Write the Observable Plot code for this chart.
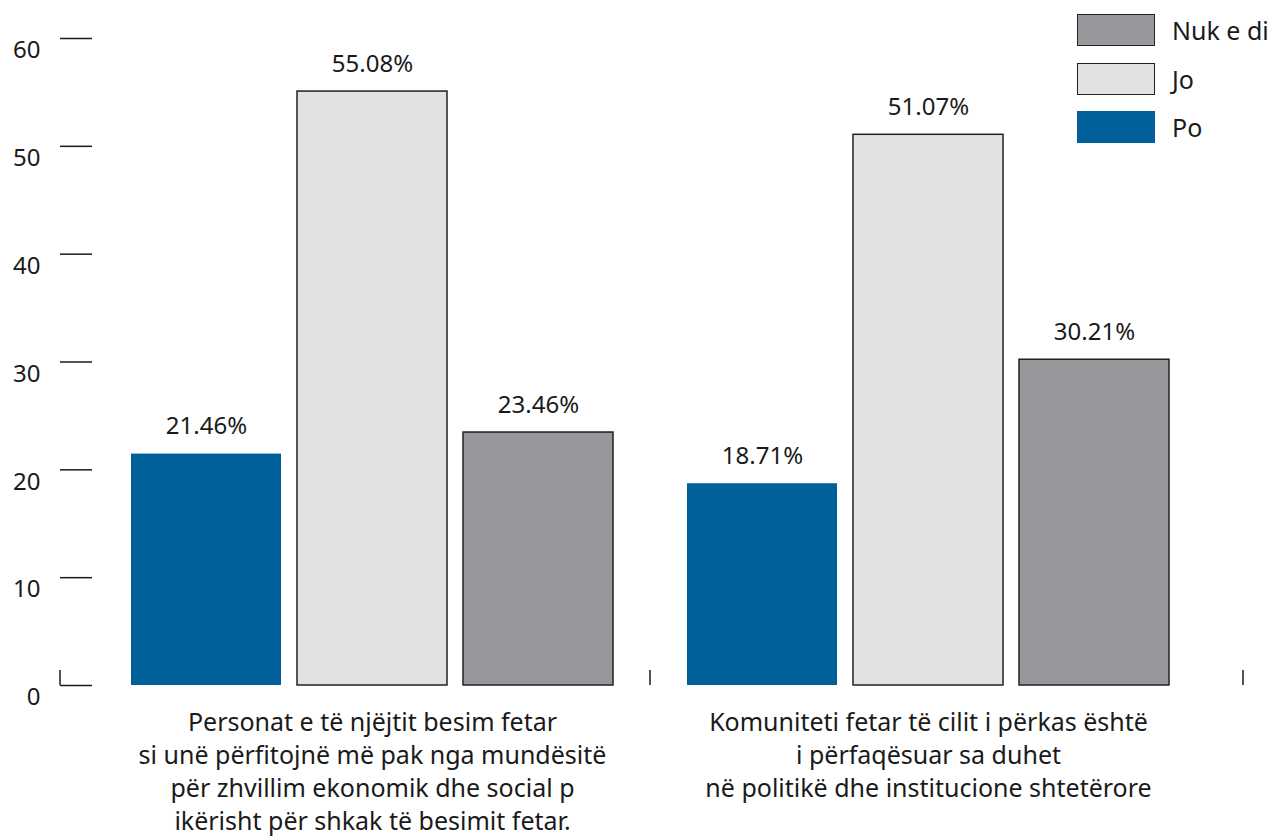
<!DOCTYPE html>
<html>
<head>
<meta charset="utf-8">
<script src="https://cdn.jsdelivr.net/npm/d3@7"></script>
<script src="https://cdn.jsdelivr.net/npm/@observablehq/plot@0.6"></script>
<style>
  html, body { margin: 0; padding: 0; background: #fff; }
  #wrap { position: relative; width: 1271px; height: 838px; font-family: "Noto Sans", sans-serif; color: #1a1a1a; }
  #legend { position: absolute; left: 1077px; top: 14px; }
  .row { display: flex; align-items: center; height: 32px; margin-bottom: 16.5px; }
  .sw { width: 78px; height: 32px; box-sizing: border-box; }
  .lab { margin-left: 17px; font-size: 25px; }
</style>
</head>
<body>
<div id="wrap"><div id="chart"></div><div id="legend"></div></div>
<script>
const categories = [
  "Personat e të njëjtit besim fetar\nsi unë përfitojnë më pak nga mundësitë\npër zhvillim ekonomik dhe social p\nikërisht për shkak të besimit fetar.",
  "Komuniteti fetar të cilit i përkas është\ni përfaqësuar sa duhet\nnë politikë dhe institucione shtetërore"
];
const series = ["Po", "Jo", "Nuk e di"];
const poValues = [21.46, 18.71];
const joValues = [55.08, 51.07];
const nukValues = [23.46, 30.21];
const yTicks = [0, 10, 20, 30, 40, 50, 60];
const legendOrder = ["Nuk e di", "Jo", "Po"];

const colors = {"Po": "#00609a", "Jo": "#e1e2e4", "Nuk e di": "#97989b"};
const strokes = {"Po": "none", "Jo": "#222", "Nuk e di": "#222"};

const valueBySeries = {"Po": poValues, "Jo": joValues, "Nuk e di": nukValues};
const data = [];
categories.forEach((c, i) => series.forEach(s => data.push({category: c, series: s, value: valueBySeries[s][i]})));

const plot = Plot.plot({
  width: 1271,
  height: 838,
  marginLeft: 60,
  marginRight: 28,
  marginTop: 38,
  marginBottom: 153,
  style: {fontFamily: "'Noto Sans', sans-serif", color: "#1a1a1a", background: "#fff"},
  fx: {domain: categories, paddingInner: 0, paddingOuter: 0.062, align: 0, label: null},
  x: {domain: series, paddingInner: 0.099, paddingOuter: 0.222, align: 0.96, axis: null},
  y: {domain: [0, 60], axis: null},
  marks: [
    Plot.barY(data, {
      fx: "category", x: "series", y: "value",
      fill: d => colors[d.series],
      stroke: d => strokes[d.series],
      strokeWidth: 1.5
    }),
    Plot.text(data, {
      fx: "category", x: "series", y: "value",
      text: d => d.value.toFixed(2) + "%",
      lineAnchor: "bottom", dy: -20, fontSize: 24, fill: "#1a1a1a"
    }),
    Plot.axisY({ticks: yTicks, tickSize: -32, fill: "none", label: null, stroke: "#1a1a1a", strokeWidth: 1.5}),
    Plot.axisY({ticks: yTicks, tickSize: 0, tickPadding: 20, dy: 12, fontSize: 24, label: null, fill: "#1a1a1a"}),
    Plot.axisFx({anchor: "bottom", tickSize: 0, tickPadding: 22, fontSize: 25, lineHeight: 1.32, label: null, fill: "#1a1a1a"})
  ]
});
document.getElementById("chart").appendChild(plot);

// positions derived from the scales
const fx = plot.scale("fx"), xs = plot.scale("x"), y = plot.scale("y");
const svg = d3.select(plot);
const y0 = y.apply(0);
const rel = s => xs.apply(s) - xs.range[0];
const groupStart = rel(series[0]);
const groupEnd = rel(series[series.length - 1]) + xs.bandwidth;
const end1 = fx.apply(categories[0]) + groupEnd;
const start2 = fx.apply(categories[1]) + groupStart;
const bounds = [fx.range[0], (end1 + start2) / 2, fx.range[1]];
svg.append("g").attr("stroke", "#1a1a1a").attr("stroke-width", 1.5)
  .selectAll("line").data(bounds).join("line")
  .attr("x1", d => d).attr("x2", d => d)
  .attr("y1", y0).attr("y2", y0 - 15);

// centre the category labels under their bar groups
const shift = (groupStart + groupEnd) / 2 - fx.bandwidth / 2;
svg.selectAll('g[aria-label="fx-axis tick label"]').each(function() {
  const t = this.getAttribute("transform") || "";
  this.setAttribute("transform", `translate(${shift},0) ` + t);
});

// legend
const legend = d3.select("#legend");
legendOrder.forEach(s => {
  const row = legend.append("div").attr("class", "row");
  row.append("div").attr("class", "sw")
    .style("background", colors[s])
    .style("border", strokes[s] === "none" ? "none" : "1.5px solid " + strokes[s]);
  row.append("div").attr("class", "lab").text(s);
});
</script>
</body>
</html>
